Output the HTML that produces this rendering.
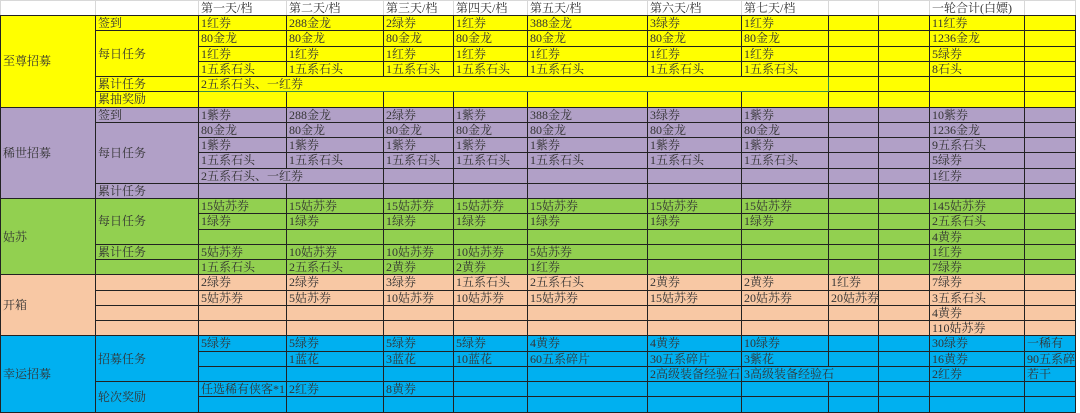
<!DOCTYPE html>
<html><head><meta charset="utf-8"><style>
html,body{margin:0;padding:0;background:#fff;width:1080px;height:412px;overflow:hidden}
table{position:absolute;left:0;top:0;border-collapse:collapse;table-layout:fixed;width:1075px;font-family:"Liberation Serif","Noto Serif CJK SC",serif;font-size:12px;color:#333}
td{border:1px solid #222;padding:0 0 0 2px;white-space:nowrap;overflow:hidden;height:14.25px;line-height:14px;vertical-align:middle}
tr.h td{border:1px solid #d8d8d8;border-bottom-color:#222;height:14px;background:#fff}
tr.y td{background:#ffff00}
tr.p td{background:#b1a0c7}
tr.g td{background:#92d050}
tr.o td{background:#f8c8a4}
tr.b td{background:#00b0f0}
td.sel{border:1px solid #3a8a4a}
td.ov{overflow:visible}
</style></head><body>
<table>
<colgroup><col style="width:95px"><col style="width:103px"><col style="width:88px"><col style="width:97px"><col style="width:70px"><col style="width:74px"><col style="width:120px"><col style="width:94px"><col style="width:87px"><col style="width:50px"><col style="width:51px"><col style="width:95px"><col style="width:51px"></colgroup>
<tr class="h"><td></td><td></td><td>第一天/档</td><td>第二天/档</td><td>第三天/档</td><td>第四天/档</td><td>第五天/档</td><td>第六天/档</td><td>第七天/档</td><td></td><td></td><td>一轮合计(白嫖)</td><td></td></tr>

<tr class="y"><td rowspan="6">至尊招募</td><td>签到</td><td>1红券</td><td>288金龙</td><td>2绿券</td><td>1红券</td><td>388金龙</td><td>3绿券</td><td>1红券</td><td></td><td></td><td>11红券</td><td></td></tr>
<tr class="y"><td rowspan="3">每日任务</td><td>80金龙</td><td>80金龙</td><td>80金龙</td><td>80金龙</td><td>80金龙</td><td>80金龙</td><td>80金龙</td><td></td><td></td><td>1236金龙</td><td></td></tr>
<tr class="y"><td>1红券</td><td>1红券</td><td>1红券</td><td>1红券</td><td>1红券</td><td>1红券</td><td>1红券</td><td></td><td></td><td>5绿券</td><td></td></tr>
<tr class="y"><td>1五系石头</td><td>1五系石头</td><td>1五系石头</td><td>1五系石头</td><td>1五系石头</td><td>1五系石头</td><td>1五系石头</td><td></td><td></td><td>8石头</td><td></td></tr>
<tr class="y"><td>累计任务</td><td colspan="7" class="sel">2五系石头、一红券</td><td></td><td></td><td></td><td></td></tr>
<tr class="y"><td>累抽奖励</td><td></td><td></td><td></td><td></td><td></td><td></td><td></td><td></td><td></td><td></td><td></td></tr>

<tr class="p"><td rowspan="6">稀世招募</td><td>签到</td><td>1紫券</td><td>288金龙</td><td>2绿券</td><td>1紫券</td><td>388金龙</td><td>3绿券</td><td>1紫券</td><td></td><td></td><td>10紫券</td><td></td></tr>
<tr class="p"><td rowspan="4">每日任务</td><td>80金龙</td><td>80金龙</td><td>80金龙</td><td>80金龙</td><td>80金龙</td><td>80金龙</td><td>80金龙</td><td></td><td></td><td>1236金龙</td><td></td></tr>
<tr class="p"><td>1紫券</td><td>1紫券</td><td>1紫券</td><td>1紫券</td><td>1紫券</td><td>1紫券</td><td>1紫券</td><td></td><td></td><td>9五系石头</td><td></td></tr>
<tr class="p"><td>1五系石头</td><td>1五系石头</td><td>1五系石头</td><td>1五系石头</td><td>1五系石头</td><td>1五系石头</td><td>1五系石头</td><td></td><td></td><td>5绿券</td><td></td></tr>
<tr class="p"><td colspan="2">2五系石头、一红券</td><td></td><td></td><td></td><td></td><td></td><td></td><td></td><td>1红券</td><td></td></tr>
<tr class="p"><td>累计任务</td><td></td><td></td><td></td><td></td><td></td><td></td><td></td><td></td><td></td><td></td><td></td></tr>

<tr class="g"><td rowspan="5">姑苏</td><td rowspan="3">每日任务</td><td>15姑苏券</td><td>15姑苏券</td><td>15姑苏券</td><td>15姑苏券</td><td>15姑苏券</td><td>15姑苏券</td><td>15姑苏券</td><td></td><td></td><td>145姑苏券</td><td></td></tr>
<tr class="g"><td>1绿券</td><td>1绿券</td><td>1绿券</td><td>1绿券</td><td>1绿券</td><td>1绿券</td><td>1绿券</td><td></td><td></td><td>2五系石头</td><td></td></tr>
<tr class="g"><td></td><td></td><td></td><td></td><td></td><td></td><td></td><td></td><td></td><td>4黄券</td><td></td></tr>
<tr class="g"><td>累计任务</td><td>5姑苏券</td><td>10姑苏券</td><td>10姑苏券</td><td>10姑苏券</td><td>5姑苏券</td><td></td><td></td><td></td><td></td><td>1红券</td><td></td></tr>
<tr class="g"><td></td><td>1五系石头</td><td>2五系石头</td><td>2黄券</td><td>2黄券</td><td>1红券</td><td></td><td></td><td></td><td></td><td>7绿券</td><td></td></tr>

<tr class="o"><td rowspan="4">开箱</td><td></td><td>2绿券</td><td>2绿券</td><td>3绿券</td><td>1五系石头</td><td>2五系石头</td><td>2黄券</td><td>2黄券</td><td>1红券</td><td></td><td>7绿券</td><td></td></tr>
<tr class="o"><td></td><td>5姑苏券</td><td>5姑苏券</td><td>10姑苏券</td><td>10姑苏券</td><td>15姑苏券</td><td>15姑苏券</td><td>20姑苏券</td><td>20姑苏券</td><td></td><td>3五系石头</td><td></td></tr>
<tr class="o"><td></td><td></td><td></td><td></td><td></td><td></td><td></td><td></td><td></td><td></td><td>4黄券</td><td></td></tr>
<tr class="o"><td></td><td></td><td></td><td></td><td></td><td></td><td></td><td></td><td></td><td></td><td>110姑苏券</td><td></td></tr>

<tr class="b"><td rowspan="5">幸运招募</td><td rowspan="3">招募任务</td><td>5绿券</td><td>5绿券</td><td>5绿券</td><td>5绿券</td><td>4黄券</td><td>4黄券</td><td>10绿券</td><td></td><td></td><td>30绿券</td><td>一稀有</td></tr>
<tr class="b"><td></td><td>1蓝花</td><td>3蓝花</td><td>10蓝花</td><td>60五系碎片</td><td>30五系碎片</td><td>3紫花</td><td></td><td></td><td>16黄券</td><td>90五系碎片</td></tr>
<tr class="b"><td></td><td></td><td></td><td></td><td></td><td>2高级装备经验石</td><td colspan="2">3高级装备经验石</td><td></td><td>2红券</td><td>若干</td></tr>
<tr class="b"><td rowspan="2">轮次奖励</td><td>任选稀有侠客*1</td><td>2红券</td><td>8黄券</td><td></td><td></td><td></td><td></td><td></td><td></td><td></td><td></td></tr>
<tr class="b"><td></td><td></td><td></td><td></td><td></td><td></td><td></td><td></td><td></td><td></td><td></td></tr>
</table>
</body></html>
